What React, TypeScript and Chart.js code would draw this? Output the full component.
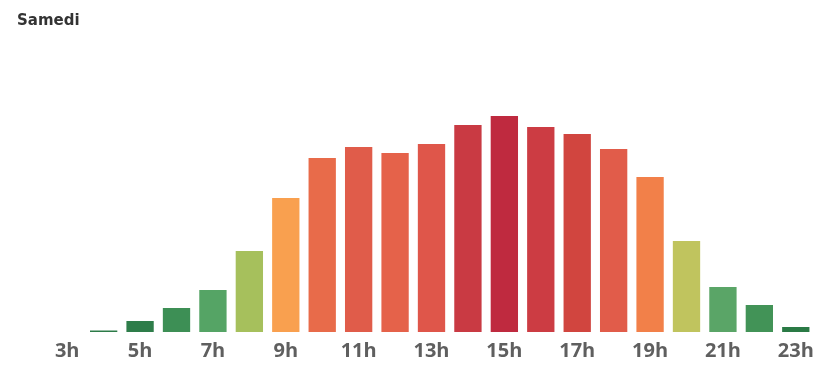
import React, { useEffect, useRef } from "react";
import { Chart, registerables } from "chart.js";

Chart.register(...registerables);

const hours: string[] = [
  "3h", "4h", "5h", "6h", "7h", "8h", "9h", "10h", "11h", "12h", "13h",
  "14h", "15h", "16h", "17h", "18h", "19h", "20h", "21h", "22h", "23h",
];

const visits: number[] = [
  0, 1.5, 11, 24, 42, 81, 134, 174, 185, 179, 188,
  207, 216, 205, 198, 183, 155, 91, 45, 27, 5,
];

const barColors: string[] = [
  "#2c7b48", "#2c7b48", "#2e7d4a", "#3d8f55", "#55a465", "#a6c05c", "#f9a04f",
  "#e86b4a", "#e05c4a", "#e5624a", "#df564a", "#c93a43", "#bf2a3f", "#cc3c43",
  "#d1453f", "#e15c4a", "#f28049", "#c0c45e", "#5aa567", "#429357", "#2a7a45",
];

const shownTicks: string[] = ["3h", "5h", "7h", "9h", "11h", "13h", "15h", "17h", "19h", "21h", "23h"];

const title = "Samedi";

export default function App() {
  const canvasRef = useRef<HTMLCanvasElement | null>(null);

  useEffect(() => {
    document.body.style.margin = "0";
    const canvas = canvasRef.current;
    if (!canvas) return;
    const chart = new Chart(canvas, {
      type: "bar",
      data: {
        labels: hours,
        datasets: [
          {
            data: visits,
            backgroundColor: barColors,
            borderWidth: 0,
            categoryPercentage: 0.75,
            barPercentage: 1,
          },
        ],
      },
      options: {
        animation: false,
        responsive: false,
        maintainAspectRatio: false,
        layout: { padding: { left: 49, right: 13, top: 42, bottom: 7 } },
        plugins: {
          legend: { display: false },
          tooltip: { enabled: false },
          title: { display: false },
        },
        scales: {
          x: {
            grid: { display: false, drawTicks: false },
            border: { display: false },
            ticks: {
              autoSkip: false,
              maxRotation: 0,
              padding: 7,
              color: "#5f5f5f",
              font: { family: "'Open Sans'", size: 20, weight: "bold" },
              callback: function (value: any, index: number) {
                const lbl = hours[index];
                return shownTicks.includes(lbl) ? lbl : "";
              },
            },
          },
          y: {
            display: false,
            min: 0,
            max: 290,
          },
        },
      },
    });
    return () => chart.destroy();
  }, []);

  return (
    <div style={{ position: "relative", width: 827, height: 377 }}>
      <div
        style={{
          position: "absolute",
          left: 17,
          top: 11,
          fontFamily: "'DejaVu Sans'",
          fontWeight: "bold",
          fontSize: 15,
          lineHeight: "18px",
          color: "#333333",
        }}
      >
        {title}
      </div>
      <canvas ref={canvasRef} width={827} height={377} style={{ display: "block" }} />
    </div>
  );
}
